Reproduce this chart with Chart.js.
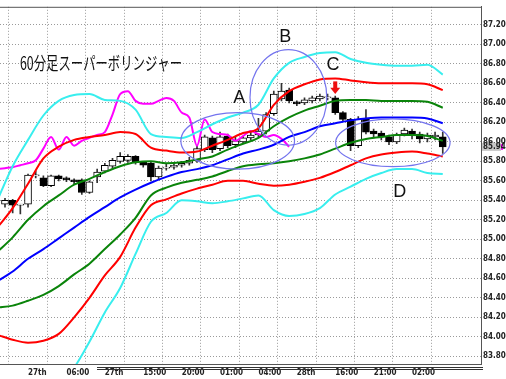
<!DOCTYPE html>
<html><head><meta charset="utf-8">
<script src="https://cdn.jsdelivr.net/npm/chart.js@4.4.0/dist/chart.umd.min.js"></script>
<style>html,body{margin:0;padding:0;background:#fff;overflow:hidden}canvas{display:block}</style>
</head><body>
<canvas id="c" width="506" height="379" style="width:506px;height:379px"></canvas>
<script>
// ---------- data ----------
const chartTitle = '60分足スーパーボリンジャー';
const firstBar = -3; // index of first candle
const opens  = [85.36,85.40,85.35,85.36,85.65,85.63,85.55,85.65,85.63,85.61,85.61,85.48,85.64,85.70,85.75,85.80,85.81,85.85,85.79,85.78,85.64,85.73,85.74,85.76,85.78,85.81,85.92,86.04,85.93,86.06,85.97,86.00,86.04,86.07,86.11,86.29,86.44,86.53,86.41,86.40,86.42,86.44,86.45,86.45,86.30,86.23,85.96,86.23,86.11,86.09,86.05,86.00,86.08,86.11,86.08,86.03,86.05,86.05];
const highs  = [85.42,85.41,85.36,85.67,85.70,85.65,85.66,85.66,85.64,85.62,85.62,85.60,85.72,85.78,85.83,85.89,85.87,85.86,85.80,85.79,85.75,85.77,85.79,85.80,85.84,85.96,86.07,86.06,86.10,86.08,86.05,86.06,86.10,86.24,86.30,86.52,86.60,86.55,86.42,86.45,86.47,86.49,86.49,86.47,86.31,86.24,86.26,86.33,86.13,86.11,86.07,86.09,86.14,86.13,86.10,86.09,86.10,86.10];
const lows   = [85.33,85.27,85.26,85.33,85.63,85.54,85.54,85.60,85.59,85.57,85.46,85.47,85.58,85.68,85.72,85.78,85.79,85.77,85.74,85.60,85.62,85.71,85.72,85.74,85.76,85.79,85.90,85.89,85.91,85.94,85.94,85.98,86.02,86.05,86.08,86.27,86.42,86.40,86.37,86.38,86.40,86.42,86.43,86.28,86.21,85.91,85.94,86.08,86.04,86.02,85.97,85.98,86.06,86.03,85.99,86.00,86.02,85.88];
const closes = [85.40,85.35,85.35,85.66,85.66,85.55,85.65,85.62,85.61,85.59,85.48,85.59,85.69,85.76,85.81,85.85,85.85,85.79,85.76,85.64,85.73,85.74,85.76,85.78,85.81,85.93,86.05,85.92,86.05,85.96,86.01,86.04,86.07,86.11,86.28,86.49,86.52,86.42,86.39,86.43,86.45,86.47,86.46,86.30,86.23,85.96,86.23,86.10,86.08,86.05,86.00,86.07,86.12,86.07,86.03,86.07,86.07,85.948];

const bandIdx = [-4,-2,0,2,4,6,8,10,12,14,16,18,20,22,24,26,28,30,32,34,36,38,40,42,44,46,48,50,52,54];
const upper3 = [85.40,85.75,86.02,86.27,86.42,86.48,86.49,86.43,86.42,86.33,86.08,86.05,86.04,86.10,86.18,86.25,86.30,86.38,86.65,86.81,86.87,86.91,86.92,86.85,86.81,86.79,86.78,86.78,86.79,86.69];
const upper2 = [85.12,85.32,85.57,85.83,85.95,86.02,86.05,86.07,86.10,86.08,85.94,85.91,85.89,85.90,85.96,86.02,86.09,86.14,86.38,86.52,86.59,86.64,86.65,86.63,86.61,86.60,86.60,86.60,86.59,86.53];
const upper1 = [84.87,85.02,85.20,85.34,85.45,85.56,85.62,85.69,85.75,85.79,85.80,85.78,85.79,85.82,85.85,85.92,85.98,86.04,86.16,86.25,86.32,86.37,86.42,86.43,86.43,86.42,86.42,86.42,86.41,86.35];
const middle = [84.57,84.67,84.80,84.90,85.01,85.12,85.23,85.33,85.43,85.51,85.58,85.64,85.69,85.72,85.76,85.82,85.88,85.92,85.97,86.05,86.10,86.16,86.19,86.22,86.24,86.25,86.25,86.25,86.24,86.19];
const lower1 = [84.30,84.32,84.37,84.43,84.52,84.64,84.75,84.90,85.05,85.22,85.45,85.53,85.58,85.61,85.645,85.70,85.75,85.77,85.78,85.80,85.83,85.87,85.93,85.99,86.03,86.05,86.07,86.07,86.06,86.01];
const lower2 = [84.02,83.97,83.94,83.96,84.03,84.20,84.40,84.63,84.82,85.12,85.35,85.41,85.47,85.52,85.56,85.60,85.60,85.57,85.55,85.56,85.59,85.63,85.69,85.76,85.83,85.87,85.89,85.90,85.88,85.85];
const lower3 = [83.00,83.05,83.15,83.30,83.45,83.68,83.95,84.25,84.50,84.85,85.18,85.27,85.40,85.39,85.37,85.39,85.42,85.45,85.30,85.24,85.26,85.32,85.46,85.54,85.62,85.68,85.72,85.72,85.68,85.67];

const laggingFirst = -4;
const lagging = [85.72,85.73,85.74,85.76,85.78,85.81,85.93,86.05,85.92,86.05,85.96,86.01,86.04,86.07,86.10,86.28,86.49,86.52,86.42,86.39,86.39,86.42,86.45,86.42,86.30,86.25,85.96,86.23,86.10,86.08,86.07,86.01,86.06,86.11,86.08,86.05,86.07,86.03,85.95];

const timeTickIdx = [0,5,10,15,20,25,30,35,40,45,50];
const timeLabels  = ['27th','06:00','27th','15:00','20:00','01:00','04:00','28th','16:00','21:00','02:00'];
const priceTicks  = [83.8,84.0,84.2,84.4,84.6,84.8,85.0,85.2,85.4,85.6,85.8,86.0,86.2,86.4,86.6,86.8,87.0,87.2];
const lastPrice = 85.948;

// annotations (data units)
const ellipseNotes = [
  {i:27.3, p:86.01, ri:7.4, rp:0.29},
  {i:33.9, p:86.455, ri:5.0, rp:0.49},
  {i:47.5, p:85.99, ri:7.45, rp:0.245}
];
const letterNotes = [
  {t:'A', i:27.5, p:86.45},
  {t:'B', i:33.5, p:87.07},
  {t:'C', i:39.7, p:86.79},
  {t:'D', i:48.4, p:85.49}
];
const arrowNote = {i:40, pTop:86.62, pTip:86.49};

// ---------- build ----------
const bodyData = [], wickData = [], bodyFill = [];
for (let k = 0; k < closes.length; k++) {
  const x = firstBar + k;
  bodyData.push({x, y:[opens[k], closes[k]]});
  wickData.push({x, y:[lows[k], highs[k]]});
  bodyFill.push(closes[k] >= opens[k] ? '#ffffff' : '#000000');
}
const band = arr => arr.map((v,k) => ({x: bandIdx[k], y: v}));
const lagData = lagging.map((v,k) => ({x: laggingFirst + k, y: v}));

const lineDs = (label, data, color, order) => ({
  type:'line', label, data, borderColor:color, borderWidth:2, pointRadius:0,
  cubicInterpolationMode:'monotone', fill:false, order
});

const narrow = '"Liberation Sans Narrow","DejaVu Sans Condensed","Liberation Sans",sans-serif';

const notes = {
  id:'notes',
  beforeDraw(chart){
    const c = chart.ctx; c.save(); c.fillStyle = '#fff'; c.fillRect(0,0,chart.width,chart.height); c.restore();
  },
  afterDatasetsDraw(chart){
    const {ctx, scales:{x, y}, chartArea:a} = chart;
    ctx.save();
    // title
    ctx.fillStyle = '#111';
    ctx.font = '18px "Noto Sans CJK JP"';
    ctx.textBaseline = 'middle';
    const w = ctx.measureText(chartTitle).width;
    ctx.save();
    ctx.translate(a.left + 20, a.top + 56);
    ctx.scale(162 / w, 1);
    ctx.fillText(chartTitle, 0, 0);
    ctx.restore();
    // ellipses
    ctx.strokeStyle = '#7474ee'; ctx.lineWidth = 1.2;
    for (const e of ellipseNotes) {
      const cx = x.getPixelForValue(e.i), cy = y.getPixelForValue(e.p);
      const rx = x.getPixelForValue(e.i + e.ri) - cx;
      const ry = cy - y.getPixelForValue(e.p + e.rp);
      ctx.beginPath(); ctx.ellipse(cx, cy, rx, ry, 0, 0, Math.PI*2); ctx.stroke();
    }
    // letters
    ctx.fillStyle = '#111';
    ctx.font = '18px "Liberation Sans"';
    ctx.textAlign = 'center'; ctx.textBaseline = 'middle';
    for (const l of letterNotes) ctx.fillText(l.t, x.getPixelForValue(l.i), y.getPixelForValue(l.p));
    // arrow
    const ax = x.getPixelForValue(arrowNote.i);
    const at = y.getPixelForValue(arrowNote.pTop), ab = y.getPixelForValue(arrowNote.pTip);
    ctx.fillStyle = '#ee1010';
    ctx.fillRect(ax - 2, at, 4, (ab - at) * 0.55);
    ctx.beginPath();
    ctx.moveTo(ax - 5, at + (ab - at) * 0.5);
    ctx.lineTo(ax + 5, at + (ab - at) * 0.5);
    ctx.lineTo(ax, ab);
    ctx.closePath(); ctx.fill();
    ctx.restore();
  },
  afterDraw(chart){
    const {ctx, scales:{y}, chartArea:a} = chart;
    ctx.save();
    // top border
    ctx.strokeStyle = '#555'; ctx.lineWidth = 1;
    ctx.beginPath(); ctx.moveTo(a.left, a.top + 0.5); ctx.lineTo(a.right + 1, a.top + 0.5); ctx.stroke();
    // double line under plot
    ctx.strokeStyle = '#333';
    ctx.beginPath();
    ctx.moveTo(97, a.bottom + 3.5); ctx.lineTo(a.right + 2, a.bottom + 3.5);
    ctx.moveTo(97, a.bottom + 5.5); ctx.lineTo(a.right + 2, a.bottom + 5.5);
    ctx.stroke();
    // last price label
    const py = y.getPixelForValue(lastPrice);
    ctx.fillStyle = '#c8c8c8';
    ctx.fillRect(a.right + 1, py - 4, 19, 8);
    ctx.fillStyle = '#ff00ff';
    ctx.fillRect(a.right + 20, py - 3, 2, 6);
    ctx.fillStyle = '#222';
    ctx.font = 'bold 8px ' + narrow;
    ctx.textBaseline = 'middle'; ctx.textAlign = 'left';
    ctx.fillText(lastPrice.toFixed(3), a.right + 2, py);
    ctx.restore();
  }
};

new Chart(document.getElementById('c'), {
  type:'bar',
  data:{
    datasets:[
      lineDs('+3σ', band(upper3), '#38eeee', 0),
      lineDs('+2σ', band(upper2), '#ff0000', 0),
      lineDs('+1σ', band(upper1), '#0a840a', 0),
      lineDs('MA', band(middle), '#0000ff', 0),
      lineDs('-1σ', band(lower1), '#0a840a', 0),
      lineDs('-2σ', band(lower2), '#ff0000', 0),
      lineDs('-3σ', band(lower3), '#38eeee', 0),
      lineDs('遅行スパン', lagData, '#ff00ff', 0),
      {type:'bar', label:'body', data:bodyData, backgroundColor:bodyFill, borderColor:'#000', borderWidth:1,
       borderSkipped:false, barThickness:7, grouped:false, minBarLength:1, order:1},
      {type:'bar', label:'wick', data:wickData, backgroundColor:'#333', borderWidth:0,
       barThickness:1, grouped:false, order:2}
    ]
  },
  plugins:[notes],
  options:{
    responsive:false, animation:false, devicePixelRatio:1,
    layout:{padding:{top:1, left:0, right:0, bottom:0}},
    plugins:{legend:{display:false}, tooltip:{enabled:false}},
    scales:{
      x:{
        type:'linear', min:-3.65, max:58.98, offset:false,
        afterBuildTicks: s => { s.ticks = timeTickIdx.map(v => ({value:v})); },
        afterFit: s => { s.height = 15; },
        ticks:{ callback:(v,i) => timeLabels[i], align:'start', maxRotation:0, autoSkip:false,
                padding:4, color:'#222', font:{family:narrow, size:8, weight:'bold'} },
        grid:{ color:'#9a9a9a', drawTicks:false },
        border:{ display:true, color:'#555', dash:[1,2] }
      },
      y:{
        type:'linear', position:'right', min:83.721, max:87.385,
        afterBuildTicks: s => { s.ticks = priceTicks.map(v => ({value:v})); },
        afterFit: s => { s.width = 25; },
        ticks:{ callback:v => v.toFixed(3), padding:2, color:'#222', font:{family:narrow, size:8, weight:'bold'} },
        grid:{ color:'#9a9a9a', drawTicks:false },
        border:{ display:true, color:'#555', dash:[1,2] }
      }
    }
  }
});
</script>
</body></html>
